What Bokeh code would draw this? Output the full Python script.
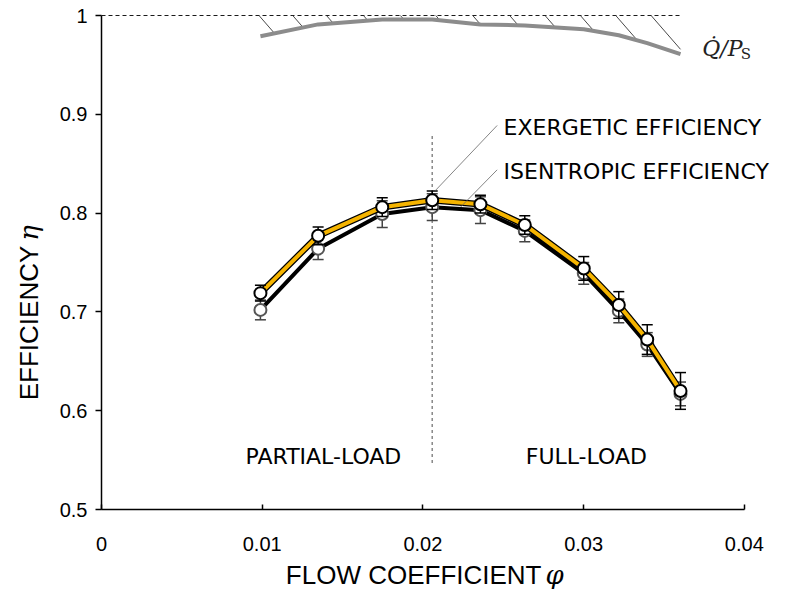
import numpy as np
from bokeh.plotting import figure
from bokeh.models import Range1d, Label
from bokeh.embed import file_html
from bokeh.resources import INLINE

# ---- data ----
phi = [0.00989, 0.01348, 0.01747, 0.02058, 0.02358, 0.02634, 0.03001, 0.03219, 0.03396, 0.03603]
eta_ex = [0.719, 0.777, 0.806, 0.813, 0.809, 0.788, 0.744, 0.707, 0.672, 0.620]
err_ex = [0.008, 0.009, 0.0095, 0.0094, 0.009, 0.0094, 0.012, 0.0135, 0.015, 0.0186]
eta_is = [0.702, 0.764, 0.799, 0.806, 0.803, 0.782, 0.739, 0.701, 0.667, 0.617]
err_is = [0.010, 0.011, 0.0135, 0.0135, 0.0135, 0.011, 0.011, 0.012, 0.012, 0.012]
q_ps = [0.979, 0.991, 0.996, 0.996, 0.991, 0.990, 0.986, 0.980, 0.972, 0.961]
q_ref = 1.0
hatch_x = [0.0098, 0.0119, 0.0140, 0.0163, 0.0186, 0.0208, 0.0231, 0.0254, 0.0276, 0.0298, 0.0320, 0.0342]

x_ticks = [0, 0.01, 0.02, 0.03, 0.04]
x_tick_labels = ["0", "0.01", "0.02", "0.03", "0.04"]
y_ticks = [0.5, 0.6, 0.7, 0.8, 0.9, 1.0]
y_tick_labels = ["0.5", "0.6", "0.7", "0.8", "0.9", "1"]

split_phi = phi[3]
split_y = [0.547, 0.879]

ORANGE = "#F5B400"

# canvas; axes are fixed inside the frame so labels can sit anywhere
W, H = 785, 597
PX_X = 16070.0   # pixels per unit of phi
PX_Y = 988.0     # pixels per unit of eta
X0_PX, Y1_PX = 101, 15
x_lo = -X0_PX / PX_X
x_hi = (W - X0_PX) / PX_X
y_hi = 1 + Y1_PX / PX_Y
y_lo = 1 - (H - Y1_PX) / PX_Y

p = figure(width=W, height=H, output_backend="svg", toolbar_location=None,
           x_range=Range1d(x_lo, x_hi), y_range=Range1d(y_lo, y_hi),
           min_border=0)
p.outline_line_color = None
p.grid.visible = False
p.background_fill_color = "white"
p.border_fill_color = "white"

for ax in (p.xaxis[0], p.yaxis[0]):
    ax.axis_line_color = "black"
    ax.axis_line_width = 1.5
    ax.major_tick_line_color = "black"
    ax.major_tick_line_width = 1.5
    ax.minor_tick_line_color = None
    ax.major_label_text_font = "Liberation Sans"
    ax.major_label_text_font_size = "20px"
    ax.major_label_text_color = "black"

p.xaxis.fixed_location = 0.5
p.xaxis.bounds = (0, 0.04)
p.xaxis.ticker = x_ticks
p.xaxis.major_label_overrides = dict(zip(x_ticks, x_tick_labels))
p.xaxis.major_tick_in = 5
p.xaxis.major_tick_out = 0
p.xaxis.major_label_standoff = 27

p.yaxis.fixed_location = 0
p.yaxis.bounds = (0.5, 1.0)
p.yaxis.ticker = y_ticks
p.yaxis.major_label_overrides = dict(zip(y_ticks, y_tick_labels))
p.yaxis.major_tick_in = 0
p.yaxis.major_tick_out = 6
p.yaxis.major_label_standoff = 8

# reference line at 1 and Q/Ps curve with hatching
p.line([0, phi[-1]], [q_ref, q_ref], line_color="black", line_width=0.9, line_dash="4 3")

xs = np.linspace(min(hatch_x), phi[-1], 3000)
curve = np.interp(xs, phi, q_ps)
slope = 18.7
hx0, hy0, hx1, hy1 = [], [], [], []
for x0 in hatch_x:
    m = xs >= x0
    xx = xs[m]
    ly = q_ref - slope * (xx - x0)
    cc = curve[m]
    idx = np.where(ly <= cc)[0]
    k = idx[0] if len(idx) else len(xx) - 1
    hx0.append(x0); hy0.append(q_ref); hx1.append(xx[k]); hy1.append(ly[k])
p.segment(hx0, hy0, hx1, hy1, line_color="#333333", line_width=0.9)
p.line(phi, q_ps, line_color="#8c8c8c", line_width=4, line_join="round")

# split line
p.segment([split_phi], [split_y[0]], [split_phi], [split_y[1]],
          line_color="#888888", line_width=1.5, line_dash="3 3")

# isentropic series
lo_is = [v - e for v, e in zip(eta_is, err_is)]
hi_is = [v + e for v, e in zip(eta_is, err_is)]
p.line(phi, eta_is, line_color="black", line_width=4, line_join="round")
p.segment(phi, lo_is, phi, hi_is, line_color="#444444", line_width=1.5)
p.scatter(phi, lo_is, marker="dash", size=11, line_color="#444444", line_width=1.5)
p.scatter(phi, hi_is, marker="dash", size=11, line_color="#444444", line_width=1.5)
p.scatter(phi, eta_is, marker="circle", size=12, fill_color="white", line_color="#555555", line_width=2)

# exergetic series
lo_ex = [v - e for v, e in zip(eta_ex, err_ex)]
hi_ex = [v + e for v, e in zip(eta_ex, err_ex)]
p.line(phi, eta_ex, line_color="black", line_width=6.5, line_join="round")
p.line(phi, eta_ex, line_color=ORANGE, line_width=4, line_join="round")
p.segment(phi, lo_ex, phi, hi_ex, line_color="black", line_width=1.5)
p.scatter(phi, lo_ex, marker="dash", size=11, line_color="black", line_width=1.5)
p.scatter(phi, hi_ex, marker="dash", size=11, line_color="black", line_width=1.5)
p.scatter(phi, eta_ex, marker="circle", size=12, fill_color="white", line_color="black", line_width=2)

# leader lines and series labels
lead_x0 = [0.02462, 0.02462]
lead_y0 = [0.8887, 0.8438]
lead_x1 = [0.02078, 0.02234]
lead_y1 = [0.8229, 0.8060]
p.segment(lead_x0, lead_y0, lead_x1, lead_y1, line_color="#666666", line_width=0.8)

lab_font = "DejaVu Sans"
for txt, x, y, al in [("EXERGETIC EFFICIENCY", 0.02502, 0.8866, "left"),
                      ("ISENTROPIC EFFICIENCY", 0.02502, 0.8420, "left"),
                      ("PARTIAL-LOAD", 0.01381, 0.554, "center"),
                      ("FULL-LOAD", 0.03017, 0.554, "center")]:
    p.add_layout(Label(x=x, y=y, text=txt, text_font=lab_font, text_font_size="22px",
                       text_align=al, text_baseline="middle", text_color="black"))

# Q/Ps label
p.add_layout(Label(x=0.03738, y=0.9666, text="Q\u0307/P", text_font="DejaVu Serif",
                   text_font_style="italic", text_font_size="22px",
                   text_align="left", text_baseline="middle", text_color="#222222"))
p.add_layout(Label(x=0.03978, y=0.9612, text="S", text_font="DejaVu Serif",
                   text_font_size="15px", text_align="left", text_baseline="middle",
                   text_color="#222222"))

# axis titles
p.add_layout(Label(x=0.02738, y=0.4332, text="FLOW COEFFICIENT", text_font="Liberation Sans",
                   text_font_size="26px", text_align="right", text_baseline="middle",
                   text_color="black"))
p.add_layout(Label(x=0.02763, y=0.4332, text="\u03c6", text_font="DejaVu Serif",
                   text_font_style="italic", text_font_size="26px", text_align="left",
                   text_baseline="middle", text_color="black"))
p.add_layout(Label(x=-0.00454, y=0.767, text="EFFICIENCY", text_font="Liberation Sans",
                   text_font_size="26px", text_align="right", text_baseline="middle",
                   angle=np.pi / 2, text_color="black"))
p.add_layout(Label(x=-0.00454, y=0.772, text="\u03b7", text_font="DejaVu Serif",
                   text_font_style="italic", text_font_size="26px", text_align="left",
                   text_baseline="middle", angle=np.pi / 2, text_color="black"))

open("out.html", "w").write(file_html(p, INLINE))
